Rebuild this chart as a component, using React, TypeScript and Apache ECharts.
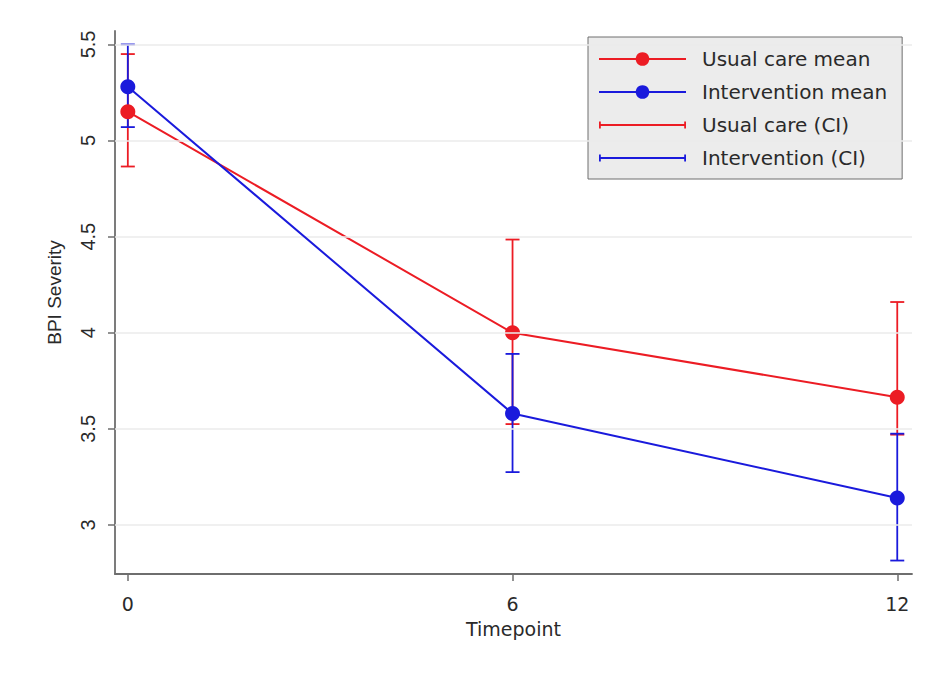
import React, { useEffect, useRef } from "react";
import * as echarts from "echarts";

const timepoints = [0, 6, 12];
const usualMean = [5.15, 4.0, 3.665];
const usualLo = [4.865, 3.525, 3.47];
const usualHi = [5.45, 4.485, 4.16];
const interMean = [5.28, 3.58, 3.14];
const interLo = [5.07, 3.275, 2.815];
const interHi = [5.5, 3.89, 3.475];
const xTicks = [0, 6, 12];
const yTicks = [3, 3.5, 4, 4.5, 5, 5.5];

const RED = "#ec1c24";
const BLUE = "#1a1adc";
const AXIS = "#6e6e6e";
const TXT = "#2a2a2a";
const HFONT = "DejaVu Sans";
const VFONT = "Liberation Sans";

const ciIcon =
  "path://M0,3.5 L1.8,3.5 L1.8,10.5 L0,10.5 Z M0,6.1 L87,6.1 L87,7.9 L0,7.9 Z M85.2,3.5 L87,3.5 L87,10.5 L85.2,10.5 Z";

function errorBars(color: string) {
  return (params: any, api: any) => {
    const x = api.value(0);
    const lo = api.coord([x, api.value(1)]);
    const hi = api.coord([x, api.value(2)]);
    const hw = 7;
    const style = { stroke: color, lineWidth: 1.8 };
    return {
      type: "group",
      children: [
        { type: "line", shape: { x1: lo[0], y1: lo[1], x2: hi[0], y2: hi[1] }, style },
        { type: "line", shape: { x1: lo[0] - hw, y1: lo[1], x2: lo[0] + hw, y2: lo[1] }, style },
        { type: "line", shape: { x1: hi[0] - hw, y1: hi[1], x2: hi[0] + hw, y2: hi[1] }, style },
      ],
    };
  };
}

export default function App() {
  const ref = useRef<HTMLDivElement>(null);
  useEffect(() => {
    if (!ref.current) return;
    const chart = echarts.init(ref.current, undefined, { renderer: "svg" });
    const option: any = {
      animation: false,
      backgroundColor: "#ffffff",
      grid: { left: 115, right: 13, top: 31, bottom: 107, containLabel: false },
      xAxis: {
        type: "value",
        min: -0.2,
        max: 12.23,
        name: "Timepoint",
        nameLocation: "middle",
        nameGap: 45,
        nameTextStyle: { fontFamily: HFONT, fontSize: 19, color: TXT },
        axisLine: { show: true, onZero: false, lineStyle: { color: AXIS, width: 1.8 } },
        axisTick: { show: true, customValues: xTicks, length: 7, lineStyle: { color: AXIS, width: 1.5 } },
        axisLabel: { customValues: xTicks, fontFamily: HFONT, fontSize: 19, color: TXT, margin: 20 },
        splitLine: { show: false },
      },
      yAxis: {
        type: "value",
        min: 2.745,
        max: 5.57,
        name: "BPI Severity",
        nameLocation: "middle",
        nameGap: 51,
        nameTextStyle: { fontFamily: VFONT, fontSize: 19, color: TXT, padding: [0, 0, 0, 20] },
        axisLine: { show: true, onZero: false, lineStyle: { color: AXIS, width: 1.8 } },
        axisTick: { show: true, customValues: yTicks, length: 7, lineStyle: { color: AXIS, width: 1.5 } },
        axisLabel: { customValues: yTicks, rotate: 90, fontFamily: VFONT, fontSize: 20, color: TXT, margin: 17 },
        splitLine: { show: false },
      },
      legend: {
        orient: "vertical",
        left: 588,
        top: 37,
        padding: [12, 15, 11, 10],
        itemWidth: 87,
        itemHeight: 17,
        itemGap: 13,
        backgroundColor: "#ececec",
        borderColor: AXIS,
        borderWidth: 1,
        borderRadius: 0,
        textStyle: { fontFamily: HFONT, fontSize: 20, color: TXT, padding: [0, 0, 0, 11] },
        data: [
          { name: "Usual care mean" },
          { name: "Intervention mean" },
          { name: "Usual care (CI)", icon: ciIcon },
          { name: "Intervention (CI)", icon: ciIcon },
        ],
      },
      series: [
        {
          name: "grid",
          type: "line",
          data: [],
          silent: true,
          z: 0,
          markLine: {
            silent: true,
            symbol: ["none", "none"],
            label: { show: false },
            lineStyle: { color: "#ebebeb", width: 1.5, type: "solid" },
            data: yTicks.map((v) => ({ yAxis: v })),
          },
        },
        {
          name: "Usual care (CI)",
          type: "custom",
          itemStyle: { color: RED },
          renderItem: errorBars(RED),
          encode: { x: 0, y: [1, 2] },
          data: timepoints.map((t, i) => [t, usualLo[i], usualHi[i]]),
          z: 2,
        },
        {
          name: "Intervention (CI)",
          type: "custom",
          itemStyle: { color: BLUE },
          renderItem: errorBars(BLUE),
          encode: { x: 0, y: [1, 2] },
          data: timepoints.map((t, i) => [t, interLo[i], interHi[i]]),
          z: 3,
        },
        {
          name: "Usual care mean",
          type: "line",
          data: timepoints.map((t, i) => [t, usualMean[i]]),
          symbol: "circle",
          symbolSize: 15,
          color: RED,
          itemStyle: { color: RED },
          lineStyle: { color: RED, width: 2 },
          z: 4,
        },
        {
          name: "Intervention mean",
          type: "line",
          data: timepoints.map((t, i) => [t, interMean[i]]),
          symbol: "circle",
          symbolSize: 15,
          color: BLUE,
          itemStyle: { color: BLUE },
          lineStyle: { color: BLUE, width: 2 },
          z: 5,
        },
      ],
    };
    chart.setOption(option);
    return () => chart.dispose();
  }, []);
  return (
    <div
      ref={ref}
      style={{ position: "fixed", left: 0, top: 0, width: 925, height: 681, background: "#fff" }}
    />
  );
}
